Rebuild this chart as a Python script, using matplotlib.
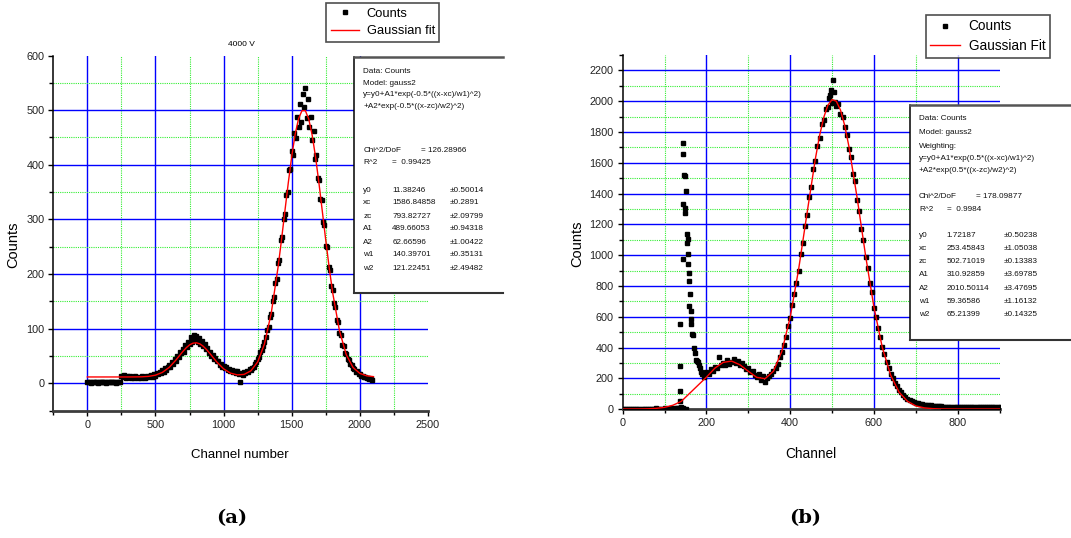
import matplotlib
matplotlib.use("Agg")
import matplotlib.pyplot as plt
import numpy as np
from matplotlib.ticker import MultipleLocator
from matplotlib.lines import Line2D
from matplotlib.patches import Rectangle

# ---------------- data: panel (a), 4000 V ----------------
ch_a = np.arange(0, 2100, 10)
counts_a = [2, 3, 2, 1, 2, 3, 2, 2, 1, 3, 2, 2, 3, 2, 1, 2, 3, 2, 2, 3, 2, 1, 2, 3, 2,
            14, 12, 15, 10, 13, 11, 14, 9, 12, 10, 13, 11, 9, 12, 10, 13, 11, 9, 12, 14,
            11, 13, 15, 12, 16,
            14, 18, 16, 21, 19, 24, 21, 27, 25, 30,
            33, 29, 38, 36, 45, 41, 50, 48, 57, 55,
            63, 58, 70, 66, 76, 71, 84, 75, 88, 79,
            86, 76, 82, 72, 78, 68, 71, 62, 64, 55,
            58, 50, 52, 44, 46, 40, 41, 34, 35, 30,
            31, 27, 29, 24, 26, 22, 24, 20, 23, 19,
            22, 17, 3, 19, 15, 21, 18, 23, 20, 26,
            24, 28, 30, 35, 38, 44, 48, 57, 60, 68,
            76, 85, 97, 103, 121, 126, 150, 158, 184, 190,
            220, 226, 262, 268, 301, 309, 345, 350, 390, 392,
            425, 418, 458, 449, 488, 470, 512, 478, 530, 505,
            540, 485, 520, 470, 488, 445, 462, 410, 418, 375,
            372, 338, 336, 295, 290, 252, 250, 212, 208, 178,
            170, 146, 140, 116, 112, 92, 88, 70, 68, 55,
            54, 44, 43, 35, 34, 27, 26, 21, 22, 17,
            16, 14, 13, 11, 12, 9, 10, 7, 8, 6]

fit_ch_a = [0, 50, 100, 150, 200, 250, 300, 350, 400, 450, 500, 550, 600, 650, 700,
            725, 750, 775, 800, 825, 850, 875, 900, 950, 1000, 1050, 1100, 1150, 1200,
            1250, 1300, 1350, 1400, 1425, 1450, 1475, 1500, 1525, 1550, 1575, 1600,
            1625, 1650, 1675, 1700, 1725, 1750, 1775, 1800, 1850, 1900, 1950, 2000,
            2050, 2100]
fit_a = [11.4, 11.4, 11.4, 11.4, 11.4, 11.4, 11.4, 11.5, 11.7, 12.5, 14.7, 19.7, 28.8,
         42.4, 57.8, 64.7, 70.1, 73.3, 74.0, 72.1, 67.7, 61.5, 54.1, 38.8, 26.3, 18.4,
         15.2, 16.1, 22.6, 38.9, 72.0, 129.1, 213.1, 263.0, 315.7, 367.6, 415.4, 455.7,
         484.4, 499.0, 499.0, 483.5, 454.0, 413.8, 365.6, 313.4, 261.0, 211.3, 166.3,
         96.2, 52.2, 28.7, 17.9, 13.5, 12.0]

names_a = ["y0", "xc", "zc", "A1", "A2", "w1", "w2"]
vals_a = ["11.38246", "1586.84858", "793.82727", "489.66053", "62.66596", "140.39701", "121.22451"]
errs_a = ["\u00b10.50014", "\u00b10.2891", "\u00b12.09799", "\u00b10.94318", "\u00b11.00422",
          "\u00b10.35131", "\u00b12.49482"]

# ---------------- data: panel (b) ----------------
ch_b_low = np.arange(0, 140, 5)
counts_b_low = [2, 3, 2, 4, 3, 2, 3, 5, 4, 3, 2, 4, 3, 5, 3, 4, 6, 4, 5, 3,
                6, 5, 4, 7, 5, 6, 8, 9]
ch_b_spike = [137, 137, 138, 138, 137, 140, 145, 150, 144, 144, 146, 149, 150, 144, 148,
              149, 154, 155, 154, 155, 144, 157, 159, 159, 160, 159, 162, 163, 164, 166,
              168, 171, 173, 175, 177, 179, 182, 185, 188]
counts_b_spike = [10, 52, 119, 281, 556, 12, 8, 5, 1731, 1659, 1519, 1515, 1417, 1330,
                  1309, 1276, 1136, 1107, 1080, 1006, 973, 941, 887, 833, 746, 671, 638,
                  584, 552, 491, 481, 400, 367, 320, 312, 305, 290, 265, 240]
ch_b_main = np.arange(190, 905, 5)
counts_b_main = [230, 210, 245, 230, 260, 250, 275, 265, 340, 290,
                 300, 285, 320, 295, 310, 325, 300, 315, 290, 300,
                 280, 260, 270, 240, 250, 220, 210, 230, 190, 215,
                 180, 200, 215, 230,
                 250, 270, 295, 340, 370, 420, 470, 540, 590, 680,
                 750, 820, 900, 1010, 1080, 1190, 1260, 1380, 1440, 1560,
                 1610, 1710, 1760, 1850, 1880, 1950, 1960, 2040, 1990, 2060,
                 1970, 1980, 1920, 1900, 1830, 1780, 1690, 1640, 1530, 1480,
                 1360, 1290, 1170, 1100, 990, 920, 820, 760, 660, 600,
                 525, 470, 405, 360, 305, 270, 230, 200, 170, 150,
                 125, 110, 95, 80, 70, 62, 55, 48, 44, 40,
                 36, 33, 30, 28, 27, 25, 24, 22, 21, 19,
                 20, 18, 17, 18, 16, 15, 17, 15, 14, 16,
                 14, 15, 13, 15, 14, 12, 15, 13, 14, 12,
                 15, 13, 14, 12, 14, 13, 15, 12, 13]
ch_b_peak = [492, 497, 503, 508]
counts_b_peak = [2020, 2070, 2140, 1995]

fit_ch_b = [0, 20, 40, 60, 80, 100, 120, 140, 200, 220, 240, 260, 280, 300, 320, 340,
            360, 380, 400, 420, 440, 460, 470, 480, 490, 500, 510, 520, 530, 540, 560,
            580, 600, 620, 640, 660, 680, 700, 720, 740, 760, 780, 800, 900]
fit_b = [1.8, 1.9, 2.2, 3.2, 6.0, 12.7, 26.5, 51.7, 209.0, 266.9, 304.8, 312.8, 289.0,
         246.6, 207.4, 198.8, 247.3, 376.1, 598.3, 907.6, 1270, 1625, 1775, 1894, 1974,
         2011, 2000, 1943, 1844, 1709, 1369, 997, 662, 400, 221, 111, 52, 22, 9.5, 4.3,
         2.5, 2.0, 1.8, 1.8]

names_b = ["y0", "xc", "zc", "A1", "A2", "w1", "w2"]
vals_b = ["1.72187", "253.45843", "502.71019", "310.92859", "2010.50114", "59.36586", "65.21399"]
errs_b = ["\u00b10.50238", "\u00b11.05038", "\u00b10.13383", "\u00b13.69785", "\u00b13.47695",
          "\u00b11.16132", "\u00b10.14325"]

# ---------------- figure ----------------
W, H = 1071, 538
SANS = ['Liberation Sans', 'DejaVu Sans']
plt.rcParams['font.family'] = SANS

fig = plt.figure(figsize=(W / 100, H / 100), dpi=100)


def fx(x):
    return x / W


def fy(y):
    return 1 - y / H


def make_axes(x0, x1, y0, y1):
    return fig.add_axes([fx(x0), fy(y1), (x1 - x0) / W, (y1 - y0) / H])


def style(ax, xmaj, xmin, ymaj, ymin, vblue, vgreen, hblue, hgreen):
    for v in vblue:
        ax.axvline(v, color='#0000ff', lw=1.0, zorder=1)
    for v in vgreen:
        ax.axvline(v, color='#33ee33', lw=0.8, ls=(0, (1, 1)), zorder=1)
    for h in hblue:
        ax.axhline(h, color='#0000ff', lw=1.0, zorder=1)
    for h in hgreen:
        ax.axhline(h, color='#33ee33', lw=0.8, ls=(0, (1, 1)), zorder=1)
    ax.spines['top'].set_visible(False)
    ax.spines['right'].set_visible(False)
    ax.spines['left'].set_color('black')
    ax.spines['left'].set_linewidth(1.1)
    ax.spines['bottom'].set_color('#3c3c3c')
    ax.spines['bottom'].set_linewidth(2.0)
    ax.xaxis.set_major_locator(MultipleLocator(xmaj))
    ax.xaxis.set_minor_locator(MultipleLocator(xmin))
    ax.yaxis.set_major_locator(MultipleLocator(ymaj))
    ax.yaxis.set_minor_locator(MultipleLocator(ymin))
    ax.tick_params(which='both', direction='out', length=3.5, width=1.0,
                   labelsize=7.8, labelcolor='#222222', pad=3)
    ax.tick_params(which='minor', length=3)


def draw_box(x0, y0, x1, y1):
    fig.add_artist(Rectangle((fx(x0), fy(y1)), (x1 - x0) / W, (y1 - y0) / H,
                             transform=fig.transFigure, facecolor='white',
                             edgecolor='none', zorder=10))
    fig.add_artist(Line2D([fx(x0), fx(x0)], [fy(y0), fy(y1)], transform=fig.transFigure,
                          color='black', lw=1.1, zorder=11))
    fig.add_artist(Line2D([fx(x0), fx(x1)], [fy(y0), fy(y0)], transform=fig.transFigure,
                          color='#555555', lw=1.8, zorder=11))
    fig.add_artist(Line2D([fx(x0), fx(x1)], [fy(y1), fy(y1)], transform=fig.transFigure,
                          color='#333333', lw=1.5, zorder=11))


def box_text(x, y, s):
    fig.text(fx(x), fy(y), s, ha='left', va='center', fontsize=5.9,
             color='#111111', zorder=12)


def legend_at(x, y, labels, size):
    h_counts = Line2D([], [], ls='none', marker='s', ms=2.8, color='black')
    h_fit = Line2D([], [], color='red', lw=1.0)
    leg = fig.legend([h_counts, h_fit], labels, loc='upper left',
                     bbox_to_anchor=(fx(x), fy(y)), bbox_transform=fig.transFigure,
                     fancybox=False, frameon=True, borderpad=0.35, labelspacing=0.4,
                     handlelength=2.2, handletextpad=0.6, borderaxespad=0,
                     prop={'size': size})
    leg.get_frame().set_edgecolor('#222222')
    leg.get_frame().set_linewidth(1.2)
    return leg


# ---- panel (a)
ax1 = make_axes(53.3, 428, 55.5, 410.5)
style(ax1, 500, 250, 100, 50,
      [0, 500, 1000, 1500, 2000], [250, 750, 1250, 1750, 2250],
      [0, 100, 200, 300, 400, 500], [50, 150, 250, 350, 450, 550])
ax1.plot(ch_a, counts_a, ls='none', marker='s', ms=3.0, color='black', zorder=3)
ax1.plot(fit_ch_a, fit_a, color='red', lw=1.0, zorder=4)
ax1.set_xlim(-250, 2500)
ax1.set_ylim(-50, 600)
fig.text(fx(241), fy(45), "4000 V", ha='center', va='center', fontsize=6)
fig.text(fx(240), fy(455), "Channel number", ha='center', va='center', fontsize=9.5)
fig.text(fx(13), fy(245), "Counts", ha='center', va='center', rotation=90, fontsize=10.5)

draw_box(354, 57.3, 503, 293)
box_text(363.3, 71.7, "Data: Counts")
box_text(363.3, 83.3, "Model: gauss2")
box_text(363.3, 95, "y=y0+A1*exp(-0.5*((x-xc)/w1)^2)")
box_text(363.3, 106.7, "+A2*exp(-0.5*((x-zc)/w2)^2)")
box_text(363.3, 150, "Chi^2/DoF")
box_text(420.7, 150, "= 126.28966")
box_text(363.3, 162.3, "R^2")
box_text(391.7, 162.3, "=  0.99425")
for i in range(len(names_a)):
    yy = 190 + i * 13.0
    box_text(363.3, yy, names_a[i])
    box_text(392.3, yy, vals_a[i])
    box_text(450, yy, errs_a[i])

legend_at(326, 3.4, ["Counts", "Gaussian fit"], 9.3)

# ---- panel (b)
ax2 = make_axes(622.7, 999.6, 55, 409.3)
style(ax2, 200, 100, 200, 100,
      [200, 400, 600, 800], [100, 300, 500, 700],
      list(range(200, 2201, 200)), list(range(100, 2101, 200)))
for cx, cy in [(ch_b_low, counts_b_low), (ch_b_spike, counts_b_spike),
               (ch_b_main, counts_b_main), (ch_b_peak, counts_b_peak)]:
    ax2.plot(cx, cy, ls='none', marker='s', ms=2.6, color='black', zorder=3)
ax2.plot(fit_ch_b, fit_b, color='red', lw=1.0, zorder=4)
ax2.set_xlim(0, 900)
ax2.set_ylim(0, 2300)
fig.text(fx(811), fy(454), "Channel", ha='center', va='center', fontsize=9.8)
fig.text(fx(577), fy(244), "Counts", ha='center', va='center', rotation=90, fontsize=10.5)

draw_box(910, 105, 1090, 340)
box_text(919, 118.3, "Data: Counts")
box_text(919, 132.3, "Model: gauss2")
box_text(919, 146, "Weighting:")
box_text(919, 158.3, "y=y0+A1*exp(0.5*((x-xc)/w1)^2)")
box_text(919, 171, "+A2*exp(0.5*((x-zc)/w2)^2)")
box_text(919, 196.7, "Chi^2/DoF")
box_text(976, 196.7, "= 178.09877")
box_text(919, 209.3, "R^2")
box_text(946.7, 209.3, "=  0.9984")
for i in range(len(names_b)):
    yy = 235.7 + i * 13.1
    box_text(919, yy, names_b[i])
    box_text(946.7, yy, vals_b[i])
    box_text(1004, yy, errs_b[i])

legend_at(925.7, 14.7, ["Counts", "Gaussian Fit"], 9.8)

# ---- captions
fig.text(fx(232), fy(518), "(a)", ha='center', va='center', fontsize=14,
         family='DejaVu Serif', weight='bold')
fig.text(fx(805), fy(518), "(b)", ha='center', va='center', fontsize=14,
         family='DejaVu Serif', weight='bold')

fig.savefig("out.png", dpi=100)
